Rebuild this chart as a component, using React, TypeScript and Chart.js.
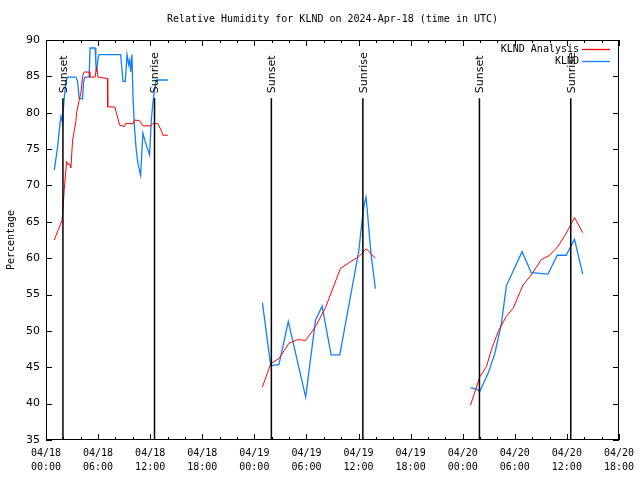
import React, { useEffect, useRef } from "react";
import { Chart, registerables } from "chart.js";
Chart.register(...registerables);

const TITLE = "Relative Humidity for KLND on 2024-Apr-18 (time in UTC)";
const Y_LABEL = "Percentage";
const SERIES_NAMES = ["KLND Analysis", "KLND"];
const SERIES_COLORS = ["#ff0000", "#1080ff"];

const X_TICK_HOURS = [0, 6, 12, 18, 24, 30, 36, 42, 48, 54, 60, 66];
const X_DATE_LABELS = ["04/18", "04/18", "04/18", "04/18", "04/19", "04/19", "04/19", "04/19", "04/20", "04/20", "04/20", "04/20"];
const X_TIME_LABELS = ["00:00", "06:00", "12:00", "18:00", "00:00", "06:00", "12:00", "18:00", "00:00", "06:00", "12:00", "18:00"];
const Y_TICKS = [35, 40, 45, 50, 55, 60, 65, 70, 75, 80, 85, 90];

const SUNSET_HOURS = [1.95, 25.96, 49.93];
const SUNRISE_HOURS = [12.5, 36.5, 60.45];

// KLND Analysis (hours since 04/18 00:00 UTC)
const analysisDay1Hours = [0.95, 1.84, 1.92, 2.1, 2.37, 2.6, 2.75, 2.87, 3.06, 3.44, 3.52, 3.82, 4.02, 4.21, 4.39, 4.97, 5.05, 5.66, 5.82, 6.0, 7.08, 7.11, 7.92, 8.49, 9.06, 9.14, 10.02, 10.21, 10.78, 11.16, 12.05, 12.31, 12.88, 13.27, 13.46, 14.03];
const analysisDay1Values = [62.5, 65.2, 66.2, 69.4, 73.3, 72.8, 73.0, 72.4, 76.2, 78.8, 80.0, 81.7, 82.7, 85.0, 85.6, 85.6, 84.9, 84.9, 86.3, 84.9, 84.7, 80.8, 80.8, 78.3, 78.1, 78.5, 78.5, 79.0, 78.9, 78.2, 78.2, 78.5, 78.5, 77.6, 76.9, 76.9];
const analysisDay2Hours = [24.93, 25.89, 26.84, 27.99, 28.94, 29.91, 31.05, 32.2, 33.92, 35.07, 36.02, 36.9, 37.94];
const analysisDay2Values = [42.3, 45.5, 46.2, 48.3, 48.8, 48.7, 50.6, 53.2, 58.6, 59.5, 60.2, 61.3, 60.0];
const analysisDay3Hours = [48.9, 49.98, 50.74, 51.31, 52.08, 53.03, 53.8, 54.95, 55.9, 57.05, 58.01, 58.96, 59.92, 60.88, 61.83];
const analysisDay3Values = [39.8, 43.7, 45.1, 47.4, 49.9, 52.0, 53.1, 56.3, 57.7, 59.8, 60.4, 61.6, 63.4, 65.6, 63.5];

// KLND observations
const obsDay1Hours = [0.95, 1.34, 1.53, 1.72, 1.92, 1.98, 2.1, 2.29, 2.49, 3.44, 3.64, 3.82, 4.21, 4.32, 4.47, 4.97, 5.08, 5.66, 5.74, 5.82, 6.0, 6.11, 8.6, 8.87, 9.14, 9.33, 9.52, 9.64, 9.75, 9.9, 10.02, 10.21, 10.4, 10.59, 10.9, 11.16, 11.36, 11.62, 11.93, 12.13, 12.31, 12.5, 12.7, 14.03];
const obsDay1Values = [72.1, 75.3, 77.6, 79.5, 78.6, 80.1, 82.0, 84.3, 84.9, 84.9, 84.3, 82.0, 81.9, 84.1, 84.9, 84.9, 88.9, 88.9, 86.8, 85.6, 87.5, 88.0, 88.0, 84.3, 84.3, 88.0, 86.6, 87.2, 85.6, 88.0, 82.2, 77.6, 74.9, 73.0, 71.4, 77.2, 76.3, 75.3, 74.2, 79.0, 81.3, 83.1, 84.5, 84.5];
const obsDay2Hours = [24.93, 25.5, 25.89, 26.84, 27.91, 29.91, 31.05, 31.81, 32.84, 33.84, 36.02, 36.51, 36.68, 36.86, 36.97, 37.43, 37.94];
const obsDay2Values = [53.9, 48.7, 45.2, 45.4, 51.3, 40.9, 51.5, 53.4, 46.7, 46.7, 60.9, 66.2, 67.5, 68.4, 67.1, 60.7, 55.8];
const obsDay3Hours = [48.9, 49.59, 49.98, 50.94, 51.7, 52.46, 53.03, 54.84, 55.9, 56.87, 57.82, 58.89, 59.92, 60.88, 61.83];
const obsDay3Values = [42.2, 42.0, 41.7, 44.2, 46.9, 51.0, 56.2, 60.9, 58.0, 57.9, 57.8, 60.4, 60.4, 62.6, 57.8];

function joinSegments(hours: number[][], values: number[][]) {
  const pts: { x: number; y: number | null }[] = [];
  hours.forEach((hs, i) => {
    if (i > 0) pts.push({ x: (hours[i - 1][hours[i - 1].length - 1] + hs[0]) / 2, y: null });
    hs.forEach((h, j) => pts.push({ x: h, y: values[i][j] }));
  });
  return pts;
}

const MONO = "'DejaVu Sans Mono', monospace";
const SANS = "'DejaVu Sans', sans-serif";

const decorPlugin = {
  id: "decor",
  afterDraw(chart: any) {
    const { ctx, chartArea: a, scales } = chart;
    const x = scales.x;
    const y = scales.y;
    const line = (x1: number, y1: number, x2: number, y2: number) => {
      ctx.beginPath();
      ctx.moveTo(x1, y1);
      ctx.lineTo(x2, y2);
      ctx.stroke();
    };
    ctx.save();
    ctx.strokeStyle = "#000";
    ctx.lineWidth = 1;
    // frame
    ctx.strokeRect(Math.round(a.left) + 0.5, Math.round(a.top) + 0.5, Math.round(a.right - a.left) - 1, Math.round(a.bottom - a.top) - 1);
    // y ticks, mirrored
    Y_TICKS.forEach((v) => {
      const py = Math.round(y.getPixelForValue(v)) + 0.5;
      line(a.left, py, a.left + 6, py);
      line(a.right - 6, py, a.right, py);
    });
    // x ticks every 2 hours, mirrored
    for (let h = X_TICK_HOURS[0]; h <= X_TICK_HOURS[X_TICK_HOURS.length - 1]; h += 2) {
      const px = Math.round(x.getPixelForValue(h)) + 0.5;
      const len = X_TICK_HOURS.includes(h) ? 6 : 3;
      line(px, a.bottom, px, a.bottom - len);
      line(px, a.top, px, a.top + len);
    }
    // sunset / sunrise markers
    const topY = y.getPixelForValue(82);
    ctx.lineWidth = 1.5;
    const events: [number, string][] = [
      ...SUNSET_HOURS.map((h) => [h, "Sunset"] as [number, string]),
      ...SUNRISE_HOURS.map((h) => [h, "Sunrise"] as [number, string]),
    ];
    events.forEach(([h, label]) => {
      const px = x.getPixelForValue(h);
      line(px, topY, px, a.bottom);
      ctx.save();
      ctx.translate(px + 1, topY - 5);
      ctx.rotate(-Math.PI / 2);
      ctx.font = `11px ${SANS}`;
      ctx.fillStyle = "#000";
      ctx.textAlign = "left";
      ctx.textBaseline = "middle";
      ctx.fillText(label, 0, 0);
      ctx.restore();
    });
    // legend
    ctx.font = `10px ${MONO}`;
    ctx.textAlign = "right";
    ctx.textBaseline = "middle";
    SERIES_NAMES.forEach((name, i) => {
      const ly = 49 + i * 12;
      ctx.fillStyle = "#000";
      ctx.fillText(name, 579, ly);
      ctx.strokeStyle = SERIES_COLORS[i];
      ctx.lineWidth = 1.3;
      line(582, ly + 0.5, 610, ly + 0.5);
    });
    // title
    ctx.fillStyle = "#000";
    ctx.textAlign = "center";
    ctx.fillText(TITLE, (a.left + a.right) / 2, 19);
    // y axis title
    ctx.save();
    ctx.translate(11, (a.top + a.bottom) / 2);
    ctx.rotate(-Math.PI / 2);
    ctx.textAlign = "center";
    ctx.textBaseline = "middle";
    ctx.fillText(Y_LABEL, 0, 0);
    ctx.restore();
    ctx.restore();
  },
};

export default function App() {
  const ref = useRef<HTMLCanvasElement | null>(null);
  useEffect(() => {
    if (!ref.current) return;
    const chart = new Chart(ref.current, {
      type: "line",
      data: {
        datasets: [
          {
            label: SERIES_NAMES[0],
            data: joinSegments([analysisDay1Hours, analysisDay2Hours, analysisDay3Hours], [analysisDay1Values, analysisDay2Values, analysisDay3Values]),
            borderColor: SERIES_COLORS[0],
            borderWidth: 1,
            pointRadius: 0,
            tension: 0,
            spanGaps: false,
          },
          {
            label: SERIES_NAMES[1],
            data: joinSegments([obsDay1Hours, obsDay2Hours, obsDay3Hours], [obsDay1Values, obsDay2Values, obsDay3Values]),
            borderColor: SERIES_COLORS[1],
            borderWidth: 1.3,
            pointRadius: 0,
            tension: 0,
            spanGaps: false,
          },
        ],
      },
      options: {
        responsive: false,
        animation: false,
        layout: { padding: { top: 40, right: 18, left: 0, bottom: 0 } },
        plugins: { legend: { display: false }, title: { display: false }, tooltip: { enabled: false } },
        scales: {
          x: {
            type: "linear",
            min: X_TICK_HOURS[0],
            max: X_TICK_HOURS[X_TICK_HOURS.length - 1],
            grid: { display: false, drawTicks: false },
            border: { display: false },
            afterFit: (s: any) => {
              s.height = 40;
            },
            afterBuildTicks: (s: any) => {
              s.ticks = X_TICK_HOURS.map((v) => ({ value: v }));
            },
            ticks: {
              autoSkip: false,
              maxRotation: 0,
              padding: 6,
              color: "#000",
              font: { family: MONO, size: 10, lineHeight: 1.4 },
              callback: (v: any) => {
                const i = X_TICK_HOURS.indexOf(Number(v));
                return i >= 0 ? [X_DATE_LABELS[i], X_TIME_LABELS[i]] : "";
              },
            },
          },
          y: {
            min: Y_TICKS[0],
            max: Y_TICKS[Y_TICKS.length - 1],
            grid: { display: false, drawTicks: false },
            border: { display: false },
            afterFit: (s: any) => {
              s.width = 46;
            },
            ticks: {
              stepSize: 5,
              padding: 6,
              color: "#000",
              font: { family: SANS, size: 11 },
            },
          },
        },
      },
      plugins: [decorPlugin],
    } as any);
    return () => chart.destroy();
  }, []);
  return (
    <canvas
      ref={ref}
      width={640}
      height={480}
      style={{ position: "fixed", left: 0, top: 0, width: 640, height: 480, background: "#fff" }}
    />
  );
}
